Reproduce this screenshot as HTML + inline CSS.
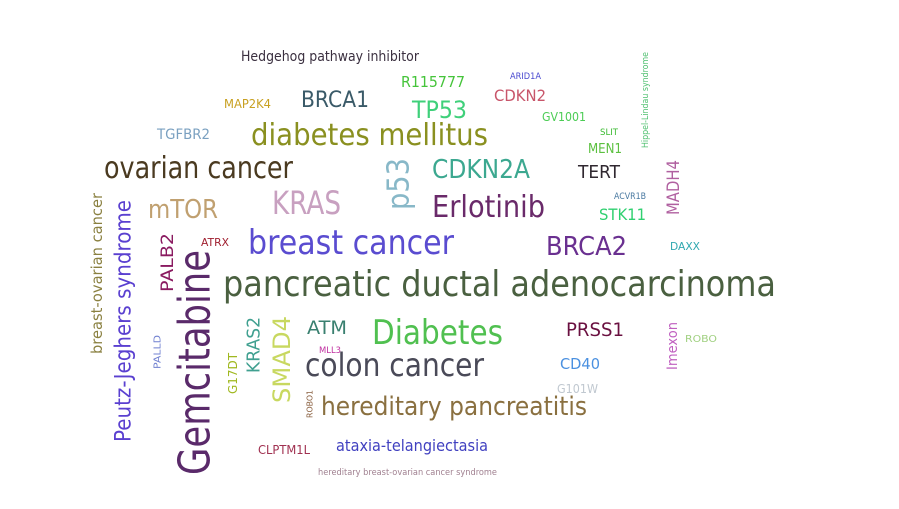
<!DOCTYPE html>
<html><head><meta charset="utf-8"><style>
html,body{margin:0;padding:0;background:#fff;width:899px;height:509px;overflow:hidden}
svg text{font-family:"DejaVu Sans","Liberation Sans",sans-serif}
</style></head><body>
<svg id="cloud" width="899" height="509" viewBox="0 0 899 509"></svg>
<script>
// word data: text, weight (font size)
const words = ["Hedgehog pathway inhibitor","R115777","ARID1A","CDKN2","BRCA1","TP53","MAP2K4","GV1001","TGFBR2","diabetes mellitus","SLIT","MEN1","ovarian cancer","CDKN2A","TERT","ACVR1B","mTOR","KRAS","Erlotinib","STK11","breast cancer","BRCA2","DAXX","ATRX","pancreatic ductal adenocarcinoma","ATM","Diabetes","PRSS1","ROBO","MLL3","colon cancer","CD40","G101W","hereditary pancreatitis","CLPTM1L","ataxia-telangiectasia","hereditary breast-ovarian cancer syndrome","Gemcitabine","Peutz-Jeghers syndrome","breast-ovarian cancer","PALB2","PALLD","G17DT","KRAS2","SMAD4","ROBO1","p53","Hippel-Lindau syndrome","MADH4","Imexon"];
const sizes = [14,15,9,16,22,24,12,12,14,30,9,13,30,26,18,9,26,32,30,16,34,26,11,11,36,19,34,19,10,9,32,15,12,26,12,16,9,44,22,15,17,10,12,18,24,8,30,9,17,14];
// layout (placement) for each word: x0,x1 extent along text direction, and cross position; rot 1 = vertical
const layout = [
[241,419,61,0],[401,465,87,0],[510,541,79,0],[494,546,101,0],[301,369,107,0],[412,467,118,0],[224,271,108,0],[542,586,121,0],[157,210,139,0],[251,488,145,0],[600,618,135,0],[588,622,153,0],[104,293,178,0],[432,530,178,0],[578,620,178,0],[614,646,199,0],[148,218,218,0],[272,341,214,0],[432,545,217,0],[599,646,220,0],[248,454,254,0],[546,627,255,0],[670,700,250,0],[201,229,246,0],[223,776,296,0],[307,347,334,0],[372,503,344,0],[566,624,336,0],[685,717,342,0],[319,341,353,0],[305,484,376,0],[560,600,369,0],[557,598,393,0],[321,587,415,0],[258,310,454,0],[336,488,451,0],[318,497,475,0],
[250,475,195,1],[200,442,124,1],[193,354,97,1],[233,292,168,1],[335,369,158,1],[353,394,233,1],[317,373,254,1],[316,403,282,1],[390,418,310,1],[158,210,399,1],[52,148,646,1],[160,215,674,1],[322,370,673,1]
];
const colors = ["#3b3040","#45c43a","#4a4ad0","#c8556a","#3a5a68","#3fd07a","#c8a020","#4ccc55","#7aa0c0","#8a9020","#3aba30","#5cc040","#4a3a20","#3ca890","#302830","#4878a0","#c0a070","#c8a0c0","#6a2a6a","#30d070","#5a4cd0","#6a3090","#30a8b0","#a02030","#4a6040","#3a8070","#50c050","#6a1040","#a0d080","#c030a0","#4a4a58","#4a90e0","#c0c8d0","#8a7040","#a03050","#4040c0","#a08090","#5a2a6a","#5a40d0","#8a8040","#8a1a60","#7080d0","#a0b820","#40a090","#c8d860","#8a6040","#88b8c8","#50c070","#b060a0","#c060c0"];
const svg = document.getElementById('cloud');
const NS = 'http://www.w3.org/2000/svg';
words.forEach((w,i)=>{
  const [a,b,c,rot] = layout[i];
  const t = document.createElementNS(NS,'text');
  t.textContent = w;
  
  
  t.setAttribute('font-size', sizes[i]);
  t.setAttribute('fill', colors[i]);
  t.setAttribute('textLength', b - a);
  t.setAttribute('lengthAdjust', 'spacingAndGlyphs');
  if (rot) {
    const cy = (a + b) / 2;
    t.setAttribute('x', c);
    t.setAttribute('y', cy);
    t.setAttribute('text-anchor', 'middle');
    t.setAttribute('dominant-baseline', 'central');
    t.setAttribute('transform', 'rotate(-90 ' + c + ' ' + cy + ')');
  } else {
    t.setAttribute('x', a);
    t.setAttribute('y', c);
  }
  svg.appendChild(t);
});
</script>
</body></html>
